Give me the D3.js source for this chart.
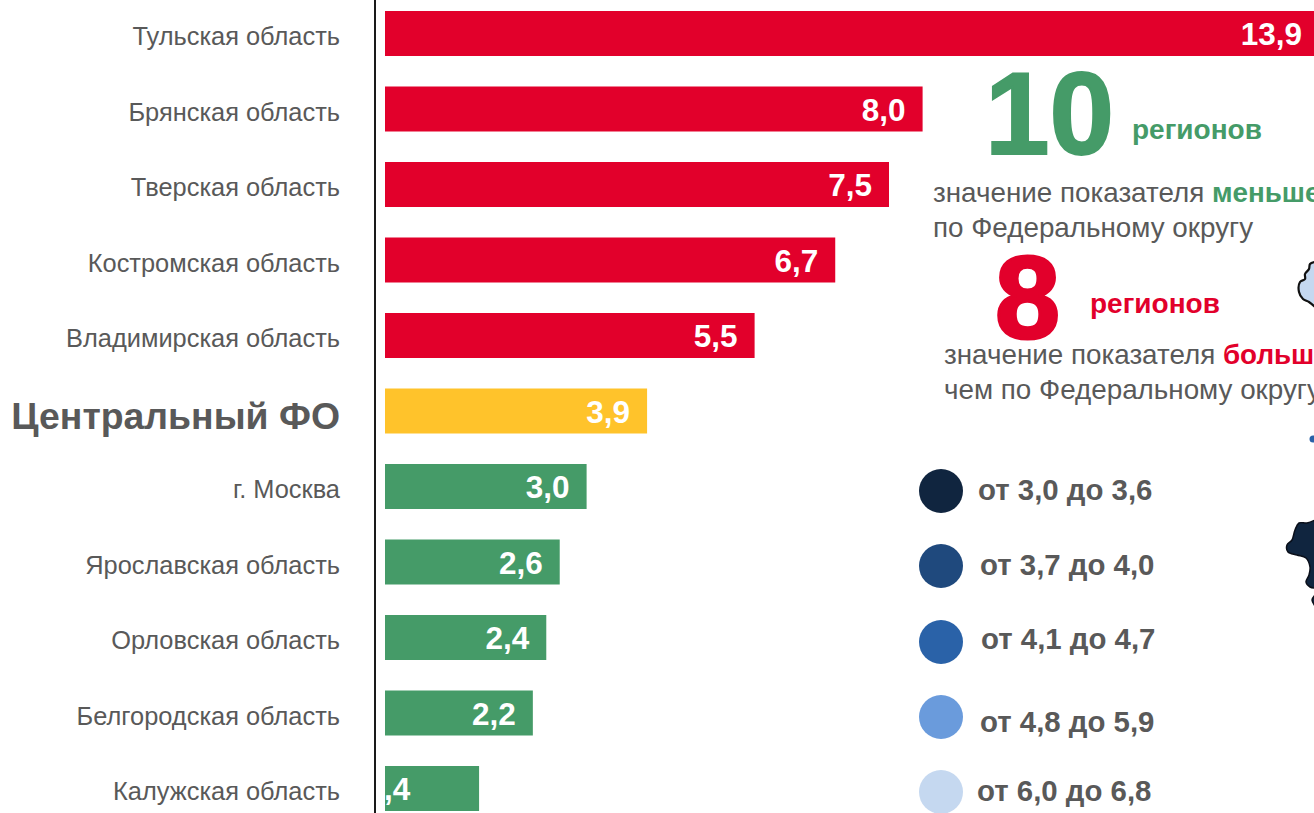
<!DOCTYPE html>
<html><head><meta charset="utf-8">
<script src="https://cdnjs.cloudflare.com/ajax/libs/d3/7.8.5/d3.min.js"></script>
<style>html,body{margin:0;padding:0;background:#fff;overflow:hidden}svg{display:block;font-family:"Liberation Sans",Arial,sans-serif}</style>
</head><body><div id="c"></div>
<script>
const categories=["Тульская область","Брянская область","Тверская область","Костромская область","Владимирская область","Центральный ФО","г. Москва","Ярославская область","Орловская область","Белгородская область","Калужская область"];
const values=[13.9,8.0,7.5,6.7,5.5,3.9,3.0,2.6,2.4,2.2,1.4];
const valueLabels=["13,9","8,0","7,5","6,7","5,5","3,9","3,0","2,6","2,4","2,2",",4"];
const groups=["high","high","high","high","high","fo","low","low","low","low","low"];
const legendLabels=["от 3,0 до 3,6","от 3,7 до 4,0","от 4,1 до 4,7","от 4,8 до 5,9","от 6,0 до 6,8"];
const legendColors=["#10253f","#1f497d","#2a62a8","#6a9bdc","#c5d8f0"];
const mapLight=[[1315,262],[1310,264],[1309,269],[1305,274],[1305,279],[1300,282],[1299,292],[1303,299],[1309,302],[1315,307]];
const mapDark=[[1315,520],[1307,523],[1299,523],[1295,530],[1292,540],[1287,545],[1288,552],[1297,555],[1306,558],[1310,567],[1309,575],[1306,582],[1310,587],[1315,588]];
const mapDarkTail=[[1315,595],[1312,600],[1315,606]];

const W=1314,H=813,RED="#e2002b",GREEN="#459b68",GOLD="#ffc32b",GREY="#595959";
const svg=d3.select("#c").append("svg").attr("width",W).attr("height",H);
const x=d3.scaleLinear().domain([0,1]).range([385,452.2]);
const y=d3.scaleBand().domain(categories).range([11,811]).paddingInner(30.5/75.5).paddingOuter(0);
const color=d3.scaleOrdinal().domain(["high","fo","low"]).range([RED,GOLD,GREEN]);

const outline=d3.line().curve(d3.curveCatmullRom);
svg.append("path").attr("d",outline(mapLight)).attr("fill",legendColors[4]).attr("stroke","#111").attr("stroke-width",2.2);
svg.append("path").attr("d",outline(mapDark)).attr("fill",legendColors[0]).attr("stroke","#0a0f1a").attr("stroke-width",1.5);
svg.append("path").attr("d",outline(mapDarkTail)).attr("fill",legendColors[0]).attr("stroke","#0a0f1a").attr("stroke-width",1.5);
svg.append("circle").attr("cx",1313).attr("cy",439).attr("r",3.5).attr("fill",legendColors[2]);

svg.selectAll("rect.bar").data(categories).join("rect").attr("class","bar")
 .attr("x",x(0)).attr("y",d=>y(d)).attr("height",y.bandwidth())
 .attr("width",(d,i)=>x(values[i])-x(0)).attr("fill",(d,i)=>color(groups[i]));

svg.append("line").attr("x1",375).attr("x2",375).attr("y1",0).attr("y2",H).attr("stroke","#1a1a1a").attr("stroke-width",2);

svg.selectAll("text.cat").data(categories).join("text").attr("class","cat")
 .attr("x",340).attr("y",(d,i)=>y(d)+y.bandwidth()/2+(groups[i]==="fo"?18:11.5))
 .attr("text-anchor","end")
 .attr("fill",GREY).attr("font-size",(d,i)=>groups[i]==="fo"?37.4:25.4)
 .attr("font-weight",(d,i)=>groups[i]==="fo"?700:400).text(d=>d);

svg.selectAll("text.val").data(categories).join("text").attr("class","val")
 .attr("x",(d,i)=>i===10?384:x(values[i])-17)
 .attr("y",d=>y(d)+y.bandwidth()/2+11.5)
 .attr("text-anchor",(d,i)=>i===10?"start":"end")
 .attr("fill","#fff").attr("font-size",31.5).attr("font-weight",700)
 .text((d,i)=>valueLabels[i]);

function t(px,py,size,weight,fill,parts){
  const e=svg.append("text").attr("x",px).attr("y",py).attr("font-size",size).attr("font-weight",weight).attr("fill",fill);
  [].concat(parts).forEach(p=>{ if(typeof p==="string") e.append("tspan").text(p);
    else e.append("tspan").attr("fill",p.fill).attr("font-weight",700).text(p.text); });
  return e;
}
t(985,154,116,700,GREEN,"10").attr("stroke",GREEN).attr("stroke-width",2);
t(1132,139,28,700,GREEN,"регионов");
t(933,202,27.8,400,GREY,["значение показателя ",{text:"меньше",fill:GREEN}]);
t(933,237,27.8,400,GREY,"по Федеральному округу");
t(995,338,117,700,RED,"8").attr("stroke",RED).attr("stroke-width",3);
t(1090,313,28,700,RED,"регионов");
t(944,364,27.8,400,GREY,["значение показателя ",{text:"больше",fill:RED}]);
t(944,399,27.8,400,GREY,"чем по Федеральному округу");

const legendY=[491,566,642,717,792],legendX=[978,980,981,980,977],legendTY=[500,575,649,732,801];
svg.selectAll("circle.leg").data(legendLabels).join("circle").attr("class","leg")
 .attr("cx",941).attr("cy",(d,i)=>legendY[i]).attr("r",22).attr("fill",(d,i)=>legendColors[i]);
svg.selectAll("text.leg").data(legendLabels).join("text").attr("class","leg")
 .attr("x",(d,i)=>legendX[i]).attr("y",(d,i)=>legendTY[i])
 .attr("font-size",29.4).attr("font-weight",700).attr("fill",GREY).text(d=>d);
</script></body></html>
